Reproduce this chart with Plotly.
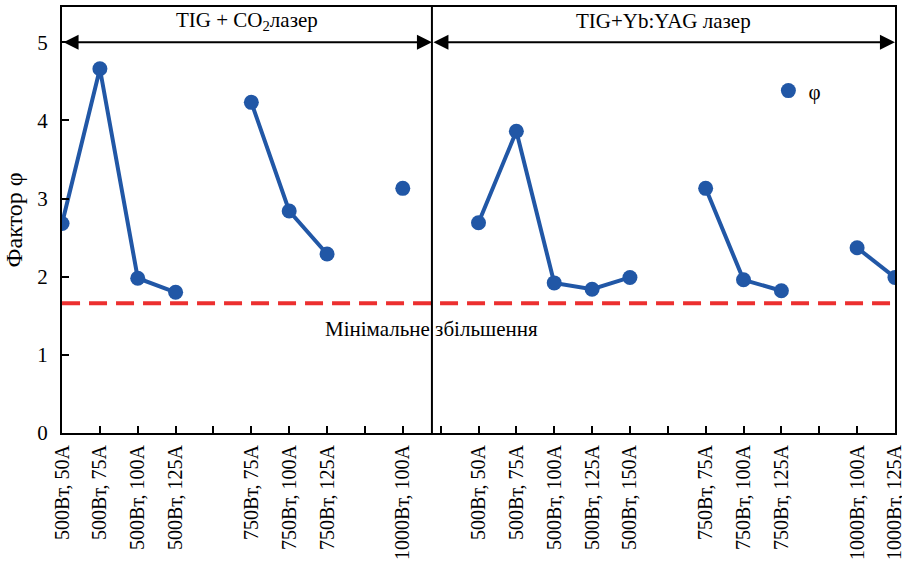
import plotly.graph_objects as go

# ---- data ----
groups = ["TIG + CO<sub>2</sub>лазер", "TIG+Yb:YAG лазер"]
# segments per group: (power, currents, phi values)
seg_power = [["500Вт", "750Вт", "1000Вт"], ["500Вт", "750Вт", "1000Вт"]]
seg_currents = [
    [["50A", "75A", "100A", "125A"], ["75A", "100A", "125A"], ["100A"]],
    [["50A", "75A", "100A", "125A", "150A"], ["75A", "100A", "125A"], ["100A", "125A"]],
]
seg_phi = [
    [[2.68, 4.66, 1.98, 1.80], [4.23, 2.84, 2.29], [3.13]],
    [[2.69, 3.86, 1.92, 1.84, 1.99], [3.13, 1.96, 1.82], [2.37, 1.99]],
]
min_gain = 1.66
min_gain_label = "Мінімальне збільшення"
y_title = "Фактор φ"
legend_name = "φ"

# ---- build positions (one empty slot between segments) ----
xs, ys, tickvals, ticktext = [], [], [], []
pos = 0
group_ends = []
for g in range(len(groups)):
    start = pos
    for s, (pw, cur, ph) in enumerate(zip(seg_power[g], seg_currents[g], seg_phi[g])):
        for c, v in zip(cur, ph):
            xs.append(pos); ys.append(v)
            tickvals.append(pos); ticktext.append(f"{pw}, {c}")
            pos += 1
        xs.append(None); ys.append(None)
        pos += 1
    group_ends.append((start, pos - 2))
xmax = pos - 2
divider = group_ends[0][1] + 0.77

blue = "#2157a6"
font = "Liberation Serif"
tfont = dict(family=font, size=21, color="black")
xfont = dict(family=font, size=20, color="black")

fig = go.Figure()
fig.add_trace(go.Scatter(x=xs, y=ys, mode="lines+markers",
                         line=dict(color=blue, width=4),
                         marker=dict(color=blue, size=15),
                         showlegend=False))
fig.add_trace(go.Scatter(x=[None], y=[None], mode="markers", name=legend_name,
                         marker=dict(color=blue, size=15), showlegend=True))

# minimum line
fig.add_trace(go.Scatter(x=[0, xmax], y=[min_gain, min_gain], mode="lines",
                         line=dict(color="#ec2f2f", width=4, dash="18px,9px"),
                         showlegend=False, hoverinfo="skip"))

# divider
fig.add_shape(type="line", x0=divider, x1=divider, y0=0, y1=1, yref="paper",
              line=dict(color="black", width=2))

# arrows and group titles
spans = [(0, divider), (divider, xmax)]
for (a, b), title in zip(spans, groups):
    fig.add_annotation(x=b, y=5, ax=a, ay=5, axref="x", ayref="y", xref="x", yref="y",
                       text="", showarrow=True, arrowhead=2, arrowside="end+start",
                       arrowwidth=2, arrowsize=1.5, arrowcolor="black")
    fig.add_annotation(x=(a + b) / 2, y=5.27, text=title, showarrow=False, font=tfont)

fig.add_annotation(x=divider, y=1.33, text=min_gain_label, showarrow=False, font=tfont)

all_ticks = list(range(0, xmax + 1))
fig.update_layout(
    width=902, height=565,
    margin=dict(l=62, r=7, t=7, b=132),
    paper_bgcolor="white", plot_bgcolor="white",
    font=tfont,
    legend=dict(x=0.848, y=0.803, xanchor="left", yanchor="middle",
                bgcolor="rgba(0,0,0,0)", font=tfont),
    xaxis=dict(range=[-0.001, xmax + 0.001], tickmode="array",
               tickvals=all_ticks,
               ticktext=[ticktext[tickvals.index(i)] if i in tickvals else " " for i in all_ticks],
               tickangle=-90, ticks="inside", ticklen=7, tickwidth=2, tickcolor="black",
               tickfont=xfont, ticklabeloverflow="allow", automargin=False,
               showline=True, linecolor="black", linewidth=2, mirror=True,
               showgrid=False, zeroline=False, ticklabelstandoff=2),
    yaxis=dict(range=[0, 5.45], tickvals=[0, 1, 2, 3, 4, 5],
               ticks="inside", ticklen=7, tickwidth=2, tickcolor="black",
               tickfont=tfont, automargin=False,
               showline=True, linecolor="black", linewidth=2, mirror=True,
               showgrid=False, zeroline=False, ticklabelstandoff=8,
               title=dict(text=y_title, standoff=8, font=dict(family=font, size=24, color="black"))),
)

fig.write_html("out.html")
